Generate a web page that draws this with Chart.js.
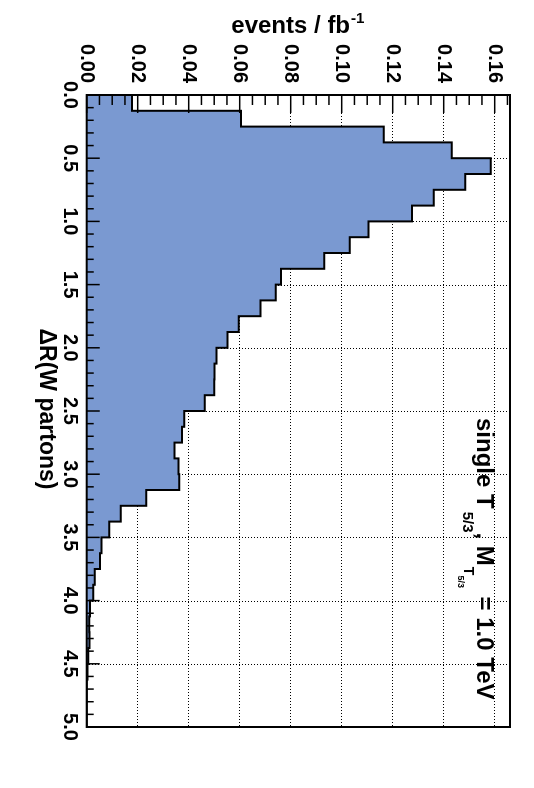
<!DOCTYPE html>
<html>
<head>
<meta charset="utf-8">
<script src="https://cdn.jsdelivr.net/npm/chart.js@4.4.1/dist/chart.umd.min.js"></script>
<style>
  html, body { margin: 0; padding: 0; background: #fff; overflow: hidden; }
  #wrap {
    position: absolute; left: 0; top: 0;
    width: 788px; height: 534px;
    transform-origin: 0 0;
    transform: translate(534px, 0) rotate(90deg);
  }
</style>
</head>
<body>
<div id="wrap"><canvas id="histo" width="788" height="534"></canvas></div>
<script>
// bin low edges in dR (bin width 0.125)
const binLow = [0, 0.125, 0.25, 0.375, 0.5, 0.625, 0.75, 0.875, 1.0, 1.125,
    1.25, 1.375, 1.5, 1.625, 1.75, 1.875, 2.0, 2.125, 2.25, 2.375,
    2.5, 2.625, 2.75, 2.875, 3.0, 3.125, 3.25, 3.375, 3.5, 3.625,
    3.75, 3.875, 4.0, 4.125, 4.25, 4.375, 4.5, 4.625, 4.75, 4.875];
const binHigh = 5.0;

// events / fb^-1 in each bin
const events = [0.0178, 0.0605, 0.1165, 0.1432, 0.1585, 0.1485, 0.1361, 0.1276, 0.1105, 0.1032,
    0.0932, 0.0762, 0.0741, 0.0682, 0.0596, 0.0552, 0.0509, 0.0501, 0.0500, 0.0463,
    0.0383, 0.0374, 0.0344, 0.0360, 0.0363, 0.0234, 0.0134, 0.0088, 0.0058, 0.0052,
    0.0032, 0.0026, 0.0013, 0.0010, 0.0011, 0.0006, 0.0003, 0, 0, 0];

const drTickLabels = ['0.0', '0.5', '1.0', '1.5', '2.0', '2.5', '3.0', '3.5', '4.0', '4.5', '5.0'];
const evTickLabels = ['0.00', '0.02', '0.04', '0.06', '0.08', '0.10', '0.12', '0.14', '0.16'];

const FONT = '"Liberation Sans", Arial, sans-serif';
const fillColor = '#7a99d1';

// stepped line needs one extra point at the upper edge
const points = binLow.map((x, i) => ({ x: x, y: events[i] }));
points.push({ x: binHigh, y: events[events.length - 1] });

// grid (dotted, under the histogram)
const gridPlugin = {
    id: 'rootGrid',
    beforeDatasetsDraw(chart) {
        const { ctx, chartArea: a, scales: { x, y } } = chart;
        ctx.save();
        ctx.strokeStyle = '#000';
        ctx.lineWidth = 1;
        ctx.setLineDash([1, 2]);
        for (let i = 1; i < drTickLabels.length - 1; i++) {
            const px = Math.round(x.getPixelForValue(parseFloat(drTickLabels[i]))) + 0.5;
            ctx.beginPath(); ctx.moveTo(px, a.top); ctx.lineTo(px, a.bottom); ctx.stroke();
        }
        for (let i = 1; i < evTickLabels.length; i++) {
            const py = Math.round(y.getPixelForValue(parseFloat(evTickLabels[i]))) + 0.5;
            ctx.beginPath(); ctx.moveTo(a.left, py); ctx.lineTo(a.right, py); ctx.stroke();
        }
        ctx.restore();
    }
};

// frame, inner ticks, titles and the label
const framePlugin = {
    id: 'rootFrame',
    afterDatasetsDraw(chart) {
        const { ctx, chartArea: a, scales: { x, y } } = chart;
        ctx.save();
        ctx.strokeStyle = '#000';
        ctx.lineWidth = 1.5;
        // dR ticks: minor every 0.1, major every 0.5
        for (let k = 0; k <= 50; k++) {
            const px = x.getPixelForValue(k / 10);
            const len = (k % 5 === 0) ? 13 : 7;
            ctx.beginPath(); ctx.moveTo(px, a.bottom); ctx.lineTo(px, a.bottom - len); ctx.stroke();
        }
        // events ticks: minor every 0.005, major every 0.02
        for (let k = 0; k <= 33; k++) {
            const py = y.getPixelForValue(k * 0.005);
            const len = (k % 4 === 0) ? 18 : 10;
            ctx.beginPath(); ctx.moveTo(a.left, py); ctx.lineTo(a.left + len, py); ctx.stroke();
        }
        ctx.lineWidth = 2;
        ctx.strokeRect(a.left, a.top, a.right - a.left, a.bottom - a.top);

        ctx.fillStyle = '#000';
        ctx.textBaseline = 'alphabetic';

        // x title
        ctx.font = 'bold 23px ' + FONT;
        ctx.textAlign = 'center';
        ctx.fillText('\u0394R(W partons)', (a.left + a.right) / 2 - 2, 494);

        // y title with superscript
        ctx.save();
        ctx.translate(33, (a.top + a.bottom) / 2 + 1);
        ctx.rotate(-Math.PI / 2);
        ctx.textAlign = 'left';
        ctx.font = 'bold 24px ' + FONT;
        const t1 = 'events / fb';
        const w1 = ctx.measureText(t1).width;
        ctx.font = 'bold 15px ' + FONT;
        const w2 = ctx.measureText('-1').width;
        let sx = -(w1 + w2) / 2;
        ctx.font = 'bold 24px ' + FONT;
        ctx.fillText(t1, sx, 0);
        ctx.font = 'bold 15px ' + FONT;
        ctx.fillText('-1', sx + w1 + 1, -10);
        ctx.restore();

        // label
        ctx.textAlign = 'left';
        const base = 57;
        let u = 418;
        const piece = (txt, size, dy) => {
            ctx.font = 'bold ' + size + 'px ' + FONT;
            ctx.fillText(txt, u, base + dy);
            u += ctx.measureText(txt).width;
        };
        piece('single T', 24, 0);
        u += 3;
        piece('5/3', 15, 14);
        piece(', M', 24, 0);
        u += 1;
        piece('T', 14, 13);
        piece('5/3', 9, 19);
        u += 2;
        piece(' = 1.0 TeV', 24, 0);
        ctx.restore();
    }
};

new Chart(document.getElementById('histo').getContext('2d'), {
    type: 'line',
    data: {
        datasets: [{
            data: points,
            stepped: 'before',
            fill: 'origin',
            backgroundColor: fillColor,
            borderColor: '#000',
            borderWidth: 2,
            pointRadius: 0,
            tension: 0
        }]
    },
    options: {
        responsive: false,
        animation: false,
        devicePixelRatio: 1,
        layout: { padding: { left: 0, right: 61, top: 20, bottom: 0 } },
        plugins: { legend: { display: false }, tooltip: { enabled: false } },
        scales: {
            x: {
                type: 'linear',
                position: 'bottom',
                min: 0,
                max: 5,
                grid: { display: false, drawTicks: false },
                border: { display: false },
                ticks: {
                    stepSize: 0.5,
                    autoSkip: false,
                    maxRotation: 0,
                    padding: 5,
                    color: '#000',
                    font: { family: FONT, size: 20, weight: 'bold' },
                    callback: (v, i) => drTickLabels[i]
                },
                afterFit: (s) => { s.height = 86.7; }
            },
            y: {
                type: 'linear',
                position: 'left',
                min: 0,
                max: 0.166,
                grid: { display: false, drawTicks: false },
                border: { display: false },
                ticks: {
                    stepSize: 0.02,
                    includeBounds: false,
                    padding: 12,
                    color: '#000',
                    font: { family: FONT, size: 20, weight: 'bold' },
                    callback: (v, i) => evTickLabels[i]
                },
                afterFit: (s) => { s.width = 95; }
            }
        }
    },
    plugins: [gridPlugin, framePlugin]
});
</script>
</body>
</html>
